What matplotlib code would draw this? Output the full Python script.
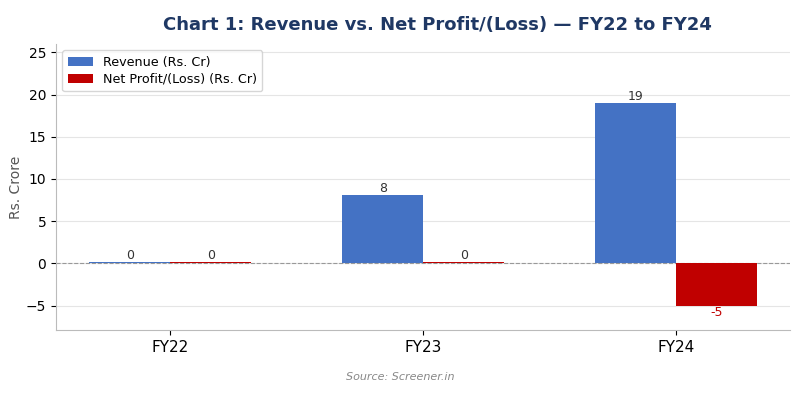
import numpy as np
import matplotlib
matplotlib.use('Agg')
import matplotlib.pyplot as plt

years = ['FY22', 'FY23', 'FY24']
revenue = [0.12, 8.1, 19.0]
net_profit = [0.15, 0.15, -5.0]

blue = '#4472C4'
red = '#C00000'

fig, ax = plt.subplots(figsize=(8, 4), dpi=100)
x = np.arange(len(years))
w = 0.32

b1 = ax.bar(x - w / 2, revenue, w, color=blue, label='Revenue (Rs. Cr)', zorder=2)
b2 = ax.bar(x + w / 2, net_profit, w, color=red, label='Net Profit/(Loss) (Rs. Cr)', zorder=2)

for rect, v in zip(b1, revenue):
    ax.text(rect.get_x() + rect.get_width() / 2, max(v, 0) + 0.05, '%.0f' % v,
            ha='center', va='bottom', fontsize=9, color='#333333')
for rect, v in zip(b2, net_profit):
    if v < 0:
        ax.text(rect.get_x() + rect.get_width() / 2, v - 0.1, '%.0f' % v,
                ha='center', va='top', fontsize=9, color=red)
    else:
        ax.text(rect.get_x() + rect.get_width() / 2, v + 0.02, '%.0f' % v,
                ha='center', va='bottom', fontsize=9, color='#333333')

ax.axhline(0, color='#999999', linestyle='--', linewidth=0.8, zorder=1)
ax.set_xticks(x)
ax.set_xticklabels(years, fontsize=11)
ax.tick_params(axis='y', labelsize=10)
ax.set_ylim(-7.9, 26)
ax.set_ylabel('Rs. Crore', color='#555555', fontsize=10, labelpad=2)
ax.set_title('Chart 1: Revenue vs. Net Profit/(Loss) — FY22 to FY24',
             fontsize=13, fontweight='bold', color='#1F3864', pad=10, x=0.52)
ax.yaxis.grid(True, color='#E5E5E5', linewidth=0.8, zorder=0)
ax.set_axisbelow(True)
for s in ['top', 'right']:
    ax.spines[s].set_visible(False)
for s in ['left', 'bottom']:
    ax.spines[s].set_color('#BBBBBB')
ax.legend(loc='upper left', fontsize=9.2, labelspacing=0.35)

fig.text(0.5, 0.05, 'Source: Screener.in', ha='center', fontsize=8,
         style='italic', color='#888888')
plt.subplots_adjust(left=0.07, right=0.988, top=0.89, bottom=0.175)
plt.savefig('out.png')
